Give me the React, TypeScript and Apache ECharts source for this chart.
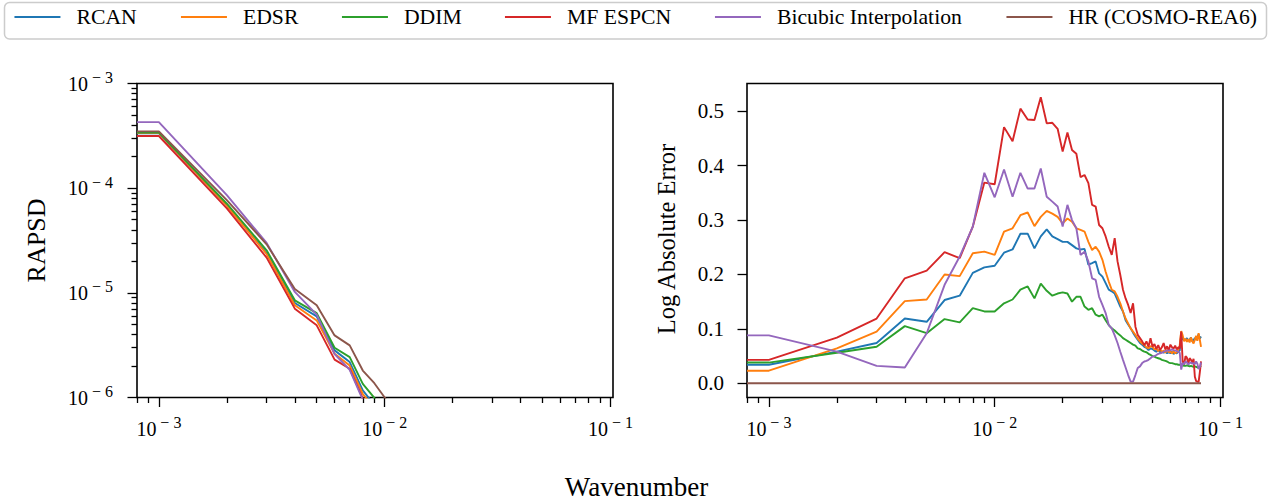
import React, { useEffect, useRef } from "react";
import * as echarts from "echarts";

// ---------- data ----------
const wavenumber = [
  0.001, 0.002, 0.003, 0.004, 0.005, 0.006, 0.007, 0.008, 0.009, 0.01,
  0.011, 0.012, 0.013, 0.014, 0.015, 0.016, 0.017, 0.018, 0.019, 0.02,
  0.021, 0.022, 0.023, 0.024, 0.025, 0.026, 0.027, 0.028, 0.029, 0.03,
  0.031, 0.032, 0.033, 0.034, 0.035, 0.036, 0.037, 0.038, 0.039, 0.04,
  0.041, 0.042, 0.043, 0.044, 0.045, 0.046, 0.047, 0.048, 0.049, 0.05,
  0.051, 0.052, 0.053, 0.054, 0.055, 0.056, 0.057, 0.058, 0.059, 0.06,
  0.061, 0.062, 0.063, 0.064, 0.065, 0.066, 0.067, 0.068, 0.069, 0.07,
  0.071, 0.072, 0.073, 0.074, 0.075, 0.076, 0.077, 0.078, 0.079, 0.08,
  0.081, 0.082,
];

const seriesNames = ["RCAN", "EDSR", "DDIM", "MF ESPCN", "Bicubic Interpolation", "HR (COSMO-REA6)"];
const seriesColors = ["#1f77b4", "#ff7f0e", "#2ca02c", "#d62728", "#9467bd", "#8c564b"];

// RAPSD (left panel), first wavenumbers only (the rest falls below 1e-6)
const rapsdRCAN = [3.35e-4, 6.9e-5, 2.4e-5, 8.0e-6, 5.95e-6, 2.82e-6, 2.18e-6, 1.17e-6, 8.5e-7, 6.0e-7, 4.5e-7];
const rapsdEDSR = [3.38e-4, 6.8e-5, 2.35e-5, 7.6e-6, 5.45e-6, 2.62e-6, 2.02e-6, 1.08e-6, 8.0e-7, 5.8e-7, 4.3e-7];
const rapsdDDIM = [3.4e-4, 7.1e-5, 2.55e-5, 8.48e-6, 6.4e-6, 2.99e-6, 2.43e-6, 1.35e-6, 9.9e-7, 7.0e-7, 5.0e-7];
const rapsdMF = [3.15e-4, 6.4e-5, 2.17e-5, 7.06e-6, 4.89e-6, 2.3e-6, 1.88e-6, 9.8e-7, 7.0e-7, 5.0e-7, 3.8e-7];
const rapsdBicubic = [4.28e-4, 8.57e-5, 3.0e-5, 1.02e-5, 6.2e-6, 2.6e-6, 1.84e-6, 9.5e-7, 6.5e-7, 4.8e-7, 3.5e-7];
const rapsdHR = [3.49e-4, 7.7e-5, 2.91e-5, 1.09e-5, 7.6e-6, 3.92e-6, 3.15e-6, 1.81e-6, 1.37e-6, 1.0e-6, 7.0e-7];

// Log absolute error (right panel)
const errRCAN = [
  0.034, 0.058, 0.074, 0.119, 0.113, 0.153, 0.161, 0.203, 0.213, 0.216,
  0.240, 0.246, 0.275, 0.275, 0.248, 0.270, 0.283, 0.270, 0.265, 0.260,
  0.260, 0.254, 0.248, 0.246, 0.247, 0.218, 0.221, 0.224, 0.202, 0.196,
  0.184, 0.172, 0.169, 0.165, 0.153, 0.141, 0.132, 0.116, 0.108, 0.101,
  0.093, 0.086, 0.080, 0.074, 0.071, 0.067, 0.065, 0.061, 0.064, 0.063,
  0.060, 0.058, 0.061, 0.057, 0.058, 0.056, 0.059, 0.055, 0.057, 0.055,
  0.058, 0.054, 0.056, 0.055, 0.058, 0.060, 0.089, 0.080, 0.081, 0.079,
  0.083, 0.078, 0.080, 0.084, 0.077, 0.079, 0.083, 0.080, 0.085, 0.090,
  0.082, 0.086,
];
const errEDSR = [
  0.023, 0.064, 0.095, 0.151, 0.154, 0.200, 0.197, 0.239, 0.242, 0.236,
  0.279, 0.285, 0.309, 0.314, 0.289, 0.306, 0.317, 0.312, 0.306, 0.294,
  0.303, 0.297, 0.285, 0.282, 0.279, 0.260, 0.245, 0.251, 0.242, 0.227,
  0.205, 0.187, 0.172, 0.169, 0.159, 0.147, 0.132, 0.119, 0.110, 0.101,
  0.095, 0.089, 0.082, 0.077, 0.073, 0.070, 0.066, 0.064, 0.068, 0.067,
  0.062, 0.064, 0.059, 0.062, 0.058, 0.060, 0.056, 0.061, 0.057, 0.058,
  0.055, 0.059, 0.055, 0.057, 0.061, 0.070, 0.096, 0.088, 0.077, 0.082,
  0.076, 0.081, 0.075, 0.084, 0.077, 0.073, 0.080, 0.087, 0.078, 0.092,
  0.080, 0.067,
];
const errDDIM = [
  0.038, 0.056, 0.067, 0.105, 0.092, 0.118, 0.112, 0.138, 0.132, 0.132,
  0.147, 0.154, 0.172, 0.178, 0.156, 0.183, 0.170, 0.161, 0.165, 0.167,
  0.165, 0.150, 0.159, 0.159, 0.141, 0.135, 0.138, 0.126, 0.123, 0.126,
  0.116, 0.107, 0.101, 0.097, 0.092, 0.088, 0.083, 0.080, 0.077, 0.074,
  0.071, 0.069, 0.064, 0.063, 0.060, 0.058, 0.057, 0.054, 0.052, 0.050,
  0.049, 0.047, 0.046, 0.045, 0.043, 0.042, 0.041, 0.040, 0.038, 0.037,
  0.037, 0.036, 0.035, 0.035, 0.034, 0.034, 0.033, 0.033, 0.032, 0.032,
  0.033, 0.032, 0.031, 0.032, 0.031, 0.030, 0.031, 0.030, 0.029, 0.029,
  0.030, 0.032,
];
const errMF = [
  0.043, 0.084, 0.119, 0.193, 0.207, 0.241, 0.230, 0.288, 0.369, 0.366,
  0.471, 0.445, 0.505, 0.485, 0.484, 0.526, 0.478, 0.479, 0.468, 0.426,
  0.461, 0.429, 0.422, 0.379, 0.383, 0.368, 0.328, 0.325, 0.291, 0.285,
  0.270, 0.251, 0.236, 0.267, 0.224, 0.199, 0.172, 0.156, 0.144, 0.129,
  0.147, 0.104, 0.089, 0.083, 0.077, 0.070, 0.077, 0.067, 0.083, 0.067,
  0.072, 0.063, 0.070, 0.061, 0.066, 0.074, 0.062, 0.068, 0.060, 0.071,
  0.066, 0.064, 0.069, 0.062, 0.066, 0.064, 0.095, 0.040, 0.034, 0.050,
  0.047, 0.036, 0.046, 0.043, 0.038, 0.045, 0.012, 0.004, 0.003, 0.002,
  0.020, 0.040,
];
const errBicubic = [
  0.088, 0.058, 0.032, 0.029, 0.092, 0.181, 0.233, 0.288, 0.387, 0.342,
  0.393, 0.343, 0.387, 0.358, 0.358, 0.395, 0.343, 0.334, 0.325, 0.288,
  0.328, 0.300, 0.285, 0.236, 0.242, 0.224, 0.193, 0.190, 0.159, 0.144,
  0.129, 0.107, 0.101, 0.088, 0.074, 0.058, 0.043, 0.029, 0.015, 0.003,
  0.003, 0.015, 0.028, 0.031, 0.037, 0.040, 0.041, 0.043, 0.046, 0.049,
  0.050, 0.052, 0.054, 0.055, 0.056, 0.058, 0.059, 0.060, 0.060, 0.061,
  0.062, 0.061, 0.060, 0.059, 0.058, 0.056, 0.025, 0.037, 0.035, 0.040,
  0.038, 0.034, 0.037, 0.038, 0.036, 0.037, 0.035, 0.040, 0.036, 0.026,
  0.030, 0.038,
];
const errHR = [
  0, 0, 0, 0, 0, 0, 0, 0, 0, 0,
  0, 0, 0, 0, 0, 0, 0, 0, 0, 0,
  0, 0, 0, 0, 0, 0, 0, 0, 0, 0,
  0, 0, 0, 0, 0, 0, 0, 0, 0, 0,
  0, 0, 0, 0, 0, 0, 0, 0, 0, 0,
  0, 0, 0, 0, 0, 0, 0, 0, 0, 0,
  0, 0, 0, 0, 0, 0, 0, 0, 0, 0,
  0, 0, 0, 0, 0, 0, 0, 0, 0, 0,
  0, 0,
];

const xLimits = [0.0008, 0.1026];
const xMajorTicks = [0.001, 0.01, 0.1];
const yLimitsLeft = [1e-6, 1e-3];
const yMajorTicksLeft = [1e-6, 1e-5, 1e-4, 1e-3];
const yLimitsRight = [-0.02625, 0.55125];
const yTicksRight = [0, 0.1, 0.2, 0.3, 0.4, 0.5];

const legendX = [13.5, 180, 341, 504, 714, 1005.5];

// ---------- helpers ----------
const FONT = "Liberation Serif";
const L = Math.log10;

function minorLogTicks(lo: number, hi: number): number[] {
  const out: number[] = [];
  for (let e = Math.floor(L(lo)) - 1; e <= Math.ceil(L(hi)); e++) {
    for (let m = 2; m <= 9; m++) {
      const v = m * Math.pow(10, e);
      if (v >= lo * 0.99999 && v <= hi * 1.00001) out.push(L(v));
    }
  }
  return out;
}

const powLabel = (v: number) => `{b|10}{s|−\u2005${Math.abs(Math.round(v))}}`;
const powRich = {
  b: { fontFamily: FONT, fontSize: 20, lineHeight: 28, color: "#000" },
  s: { fontFamily: FONT, fontSize: 16, lineHeight: 16, color: "#000", verticalAlign: "top", padding: [0, 0, 0, 4] },
};

const tickStyle = { color: "#000", width: 1.3 };

function logAxis(gridIndex: number, lim: number[], major: number[], margin: number, isY: boolean) {
  return {
    type: "value",
    gridIndex,
    min: L(lim[0]),
    max: L(lim[1]),
    position: isY ? "left" : "bottom",
    axisLine: { show: false, onZero: false },
    splitLine: { show: false },
    axisTick: { show: true, customValues: major.map(L), length: 9.5, lineStyle: tickStyle },
    axisLabel: {
      show: true,
      customValues: major.map(L),
      formatter: powLabel,
      rich: powRich,
      margin,
      lineHeight: 28,
      fontFamily: FONT,
      fontSize: 20,
      color: "#000",
    },
  };
}

function minorAxis(gridIndex: number, lim: number[], isY: boolean) {
  return {
    type: "value",
    gridIndex,
    min: L(lim[0]),
    max: L(lim[1]),
    position: isY ? "left" : "bottom",
    axisLine: { show: false, onZero: false },
    splitLine: { show: false },
    axisTick: { show: true, customValues: minorLogTicks(lim[0], lim[1]), length: 5.5, lineStyle: tickStyle },
    axisLabel: { show: false },
  };
}

function buildOption() {
  const lx0 = L(xLimits[0]);
  const rapsd = [rapsdRCAN, rapsdEDSR, rapsdDDIM, rapsdMF, rapsdBicubic, rapsdHR];
  const errs = [errRCAN, errEDSR, errDDIM, errMF, errBicubic, errHR];

  const series: any[] = [];
  seriesNames.forEach((name, i) => {
    const vals = rapsd[i];
    const pts = vals.map((v, j) => [L(wavenumber[j]), L(v)]);
    // the k = 0 sample lies off the log axis; its segment shows as a flat run to the border
    pts.unshift([lx0, L(vals[0])]);
    series.push({
      type: "line",
      name,
      xAxisIndex: 0,
      yAxisIndex: 0,
      data: pts,
      symbol: "none",
      clip: true,
      lineStyle: { color: seriesColors[i], width: 1.9 },
      itemStyle: { color: seriesColors[i] },
      z: 2 + i,
    });
  });
  seriesNames.forEach((name, i) => {
    const vals = errs[i];
    const pts = vals.map((v, j) => [L(wavenumber[j]), v]);
    pts.unshift([lx0, vals[0]]);
    series.push({
      type: "line",
      name,
      xAxisIndex: 2,
      yAxisIndex: 2,
      data: pts,
      symbol: "none",
      clip: true,
      lineStyle: { color: seriesColors[i], width: 1.9 },
      itemStyle: { color: seriesColors[i] },
      z: 2 + i,
    });
  });

  const grids = [
    { left: 137, top: 83.5, width: 476, height: 314 },
    { left: 747, top: 83.5, width: 476, height: 314 },
  ].map((g) => ({
    ...g,
    show: true,
    borderColor: "#000",
    borderWidth: 1.6,
    backgroundColor: "transparent",
    containLabel: false,
    outerBoundsMode: "none",
  }));

  const legends = seriesNames.map((name, i) => ({
    data: [name],
    left: legendX[i],
    top: 5,
    padding: 0,
    itemWidth: 46,
    itemHeight: 14,
    selectedMode: false,
    itemStyle: { opacity: 0, borderWidth: 0 },
    lineStyle: { width: 1.9 },
    textStyle: { fontFamily: FONT, fontSize: 21.7, color: "#000", padding: [0, 0, 0, 11], lineHeight: 24 },
  }));

  return {
    animation: false,
    backgroundColor: "#fff",
    textStyle: { fontFamily: FONT },
    grid: grids,
    legend: legends,
    xAxis: [
      logAxis(0, xLimits, xMajorTicks, 17, false),
      minorAxis(0, xLimits, false),
      logAxis(1, xLimits, xMajorTicks, 17, false),
      minorAxis(1, xLimits, false),
    ],
    yAxis: [
      logAxis(0, yLimitsLeft, yMajorTicksLeft, 24, true),
      minorAxis(0, yLimitsLeft, true),
      {
        type: "value",
        gridIndex: 1,
        min: yLimitsRight[0],
        max: yLimitsRight[1],
        position: "left",
        axisLine: { show: false, onZero: false },
        splitLine: { show: false },
        axisTick: { show: true, customValues: yTicksRight, length: 9.5, lineStyle: tickStyle },
        axisLabel: {
          show: true,
          customValues: yTicksRight,
          formatter: (v: number) => v.toFixed(1),
          margin: 23,
          fontFamily: FONT,
          fontSize: 21,
          color: "#000",
        },
      },
    ],
    graphic: [
      {
        type: "rect",
        z: 0,
        silent: true,
        shape: { x: 4.5, y: 2.5, width: 1262, height: 36.5, r: 5 },
        style: { fill: "#fff", stroke: "#cccccc", lineWidth: 1.5 },
      },
      {
        type: "text",
        x: 36,
        y: 240.5,
        rotation: Math.PI / 2,
        style: {
          text: "RAPSD",
          fontFamily: FONT,
          fontSize: 26,
          fill: "#000",
          align: "center",
          verticalAlign: "middle",
          textAlign: "center",
          textVerticalAlign: "middle",
        },
      },
      {
        type: "text",
        x: 666,
        y: 239,
        rotation: Math.PI / 2,
        style: {
          text: "Log Absolute Error",
          fontFamily: FONT,
          fontSize: 24.5,
          fill: "#000",
          align: "center",
          verticalAlign: "middle",
          textAlign: "center",
          textVerticalAlign: "middle",
        },
      },
      {
        type: "text",
        x: 636.5,
        y: 487,
        style: {
          text: "Wavenumber",
          fontFamily: FONT,
          fontSize: 27,
          fill: "#000",
          align: "center",
          verticalAlign: "middle",
          textAlign: "center",
          textVerticalAlign: "middle",
        },
      },
    ],
    series,
  };
}

export default function App() {
  const ref = useRef<HTMLDivElement>(null);
  useEffect(() => {
    if (!ref.current) return;
    const chart = echarts.init(ref.current, null, { renderer: "svg" });
    chart.setOption(buildOption() as any);
    return () => chart.dispose();
  }, []);
  return (
    <div
      ref={ref}
      style={{ position: "absolute", left: 0, top: 0, width: 1271, height: 501, background: "#fff" }}
    />
  );
}
